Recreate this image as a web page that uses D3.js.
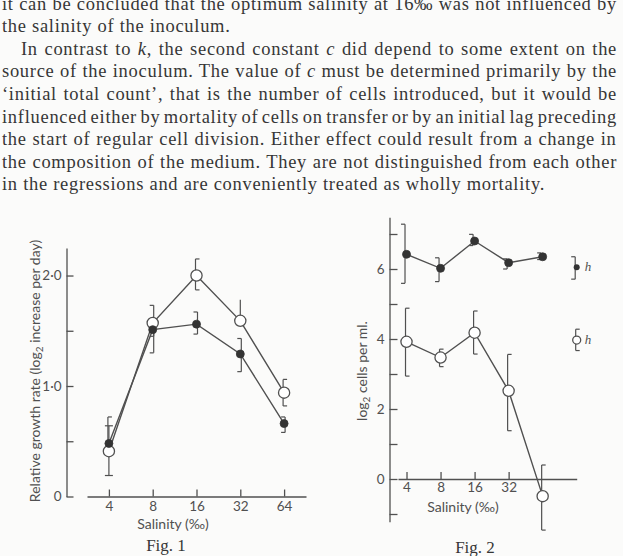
<!DOCTYPE html>
<html><head><meta charset="utf-8">
<script src="https://cdn.jsdelivr.net/npm/d3@7"></script>
<style>
html,body{margin:0;padding:0;background:#fbfbfa;}
svg{display:block;}
</style></head>
<body>
<svg id="c" width="623" height="556"></svg>
<script>
// ---------- data ----------
const salinity = [4, 8, 16, 32, 64];
const salinityLabels1 = ["4", "8", "16", "32", "64"];
const salinityLabels2 = ["4", "8", "16", "32"];

// Fig. 1 relative growth rate
const fig1Open   = [0.41, 1.57, 2.00, 1.59, 0.94];
const fig1OpenLo = [0.19, 1.45, 1.87, 1.59, 0.82];
const fig1OpenHi = [0.64, 1.73, 2.15, 1.78, 1.06];
const fig1OpenCap = ["B", "L", "R", "N", "R"];
const fig1Filled   = [0.48, 1.51, 1.56, 1.29, 0.66];
const fig1FilledLo = [0.48, 1.30, 1.47, 1.13, 0.58];
const fig1FilledHi = [0.72, 1.60, 1.67, 1.43, 0.72];
const fig1FilledCap = ["R", "L", "L", "L", "L"];
const fig1YMajor = [0, 1, 2];
const fig1YLabels = ["0", "1·0", "2·0"];
const fig1YMinor = [0.5, 1.5];

// Fig. 2 log2 cells per ml
const fig2Filled   = [6.42, 6.02, 6.80, 6.18, 6.35];
const fig2FilledLo = [5.59, 5.64, 6.67, 6.00, 6.27];
const fig2FilledHi = [7.28, 6.32, 6.99, 6.29, 6.46];
const fig2Open   = [3.92, 3.47, 4.18, 2.52, -0.49];
const fig2OpenLo = [2.94, 3.21, 3.57, 1.38, -1.46];
const fig2OpenHi = [4.88, 3.71, 4.80, 3.56, 0.40];
const fig2YMajor = [0, 2, 4, 6];
const fig2YMinor = [-1, 1, 3, 5, 7];
// "h" marker (error scale) for each series
const hSalinity = 128;
const hFilled = {v: 6.05, lo: 5.71, hi: 6.35};
const hOpen   = {v: 3.97, lo: 3.67, hi: 4.28};

const paragraph = [
  {t: "it can be concluded that the optimum salinity at 16‰ was not influenced by", indent: 0, just: true},
  {t: "the salinity of the inoculum.", indent: 0, just: false},
  {t: "In contrast to *k*, the second constant *c* did depend to some extent on the", indent: 19, just: true},
  {t: "source of the inoculum. The value of *c* must be determined primarily by the", indent: 0, just: true},
  {t: "‘initial total count’, that is the number of cells introduced, but it would be", indent: 0, just: true},
  {t: "influenced either by mortality of cells on transfer or by an initial lag preceding", indent: 0, just: true},
  {t: "the start of regular cell division.  Either effect could result from a change in", indent: 0, just: true},
  {t: "the composition of the medium. They are not distinguished from each other", indent: 0, just: true},
  {t: "in the regressions and are conveniently treated as wholly mortality.", indent: 0, just: false}
];

// ---------- drawing ----------
const svg = d3.select("#c");
const ink = "#363636";
const figInk = "#505050";
const figFont = "Lato, 'Open Sans', sans-serif";
const serif = "'Liberation Serif', 'Times New Roman', serif";

// paragraph text
const textLeft = 2, textRight = 617, lastLineEnd = 545;
const textNodes = paragraph.map((ln, i) => {
  const t = svg.append("text")
    .attr("x", textLeft + ln.indent)
    .attr("y", 9.5 + 22.6 * i)
    .attr("font-family", serif)
    .attr("font-size", 18.5)
    .attr("fill", ink);
  ln.t.split("*").forEach((seg, k) => {
    if (!seg) return;
    t.append("tspan").text(seg).attr("font-style", k % 2 ? "italic" : "normal");
  });
  return t;
});
// letter spacing so the unjustified last line ends where the printed one does
{
  const last = textNodes[textNodes.length - 1];
  const w = last.node().getComputedTextLength();
  const n = paragraph[paragraph.length - 1].t.length;
  const ls = (lastLineEnd - textLeft - w) / n;
  textNodes.forEach(t => t.style("letter-spacing", ls + "px"));
}
paragraph.forEach((ln, i) => {
  if (!ln.just) return;
  const t = textNodes[i];
  const w = t.node().getComputedTextLength();
  const spaces = (ln.t.match(/ /g) || []).length;
  const target = textRight - textLeft - ln.indent;
  t.style("word-spacing", ((target - w) / spaces) + "px");
});

function styleAxis(g, size) {
  g.attr("font-family", figFont).attr("font-size", size);
  g.selectAll("path,line").attr("stroke", figInk).attr("stroke-width", 1.3);
  g.selectAll("text").attr("fill", figInk);
}

function errorBar(g, x, ylo, yhi, side, dx) {
  const cap = 4;
  const xv = x + (side === "L" ? dx : side === "R" ? -dx : 0);
  g.append("line").attr("x1", xv).attr("x2", xv).attr("y1", ylo).attr("y2", yhi)
    .attr("stroke", figInk).attr("stroke-width", 1.2);
  if (side === "N") return;
  [ylo, yhi].forEach(yy => {
    let x1 = xv, x2 = xv;
    if (side === "L") x1 = xv - cap;
    else if (side === "R") x2 = xv + cap;
    else { x1 = xv - cap; x2 = xv + cap; }
    g.append("line").attr("x1", x1).attr("x2", x2).attr("y1", yy).attr("y2", yy)
      .attr("stroke", figInk).attr("stroke-width", 1.2);
  });
}

// ===== Fig. 1 =====
{
  const x = d3.scaleLog().base(2).domain([Math.pow(2, 1.5), Math.pow(2, 6.5)]).range([87, 306]);
  const y = d3.scaleLinear().domain([0, 2.25]).range([496.5, 247.9]);
  const g = svg.append("g");

  const yAxis = d3.axisLeft(y).tickValues(fig1YMajor.concat(fig1YMinor))
    .tickFormat(d => { const i = fig1YMajor.indexOf(d); return i >= 0 ? fig1YLabels[i] : ""; })
    .tickSize(-7).tickSizeOuter(0).tickPadding(5);
  g.append("g").attr("transform", "translate(66.5,0)").call(yAxis).call(a => styleAxis(a, 13.5));

  const xAxis = d3.axisBottom(x).tickValues(salinity)
    .tickFormat((d, i) => salinityLabels1[i]).tickSize(-7).tickSizeOuter(0).tickPadding(5);
  g.append("g").attr("transform", `translate(0,${y(0)})`).call(xAxis).call(a => styleAxis(a, 13.5));

  g.append("text").attr("x", 173).attr("y", 529).attr("text-anchor", "middle")
    .attr("font-family", figFont).attr("font-size", 14).attr("fill", figInk).text("Salinity (‰)");
  const yl = g.append("text").attr("transform", "translate(40,371) rotate(-90)")
    .attr("text-anchor", "middle").attr("font-family", figFont).attr("font-size", 14).attr("fill", figInk);
  yl.append("tspan").text("Relative growth rate (log");
  yl.append("tspan").attr("font-size", 10).attr("dy", 3).text("2");
  yl.append("tspan").attr("dy", -3).text(" increase per day)");

  g.append("text").attr("x", 166).attr("y", 551).attr("text-anchor", "middle")
    .attr("font-family", serif).attr("font-size", 17).attr("fill", ink).text("Fig. 1");

  const line = d3.line().x((d, i) => x(salinity[i])).y(d => y(d));
  g.append("path").datum(fig1Open).attr("d", line).attr("fill", "none").attr("stroke", figInk).attr("stroke-width", 1.4);
  g.append("path").datum(fig1Filled).attr("d", line).attr("fill", "none").attr("stroke", figInk).attr("stroke-width", 1.4);

  salinity.forEach((s, i) => {
    errorBar(g, x(s), y(fig1OpenLo[i]), y(fig1OpenHi[i]), fig1OpenCap[i], 1);
    errorBar(g, x(s), y(fig1FilledLo[i]), y(fig1FilledHi[i]), fig1FilledCap[i], 1);
  });
  g.selectAll("circle.o").data(fig1Open).join("circle").attr("class", "o")
    .attr("cx", (d, i) => x(salinity[i])).attr("cy", d => y(d)).attr("r", 5.6)
    .attr("fill", "#ffffff").attr("stroke", figInk).attr("stroke-width", 1.3);
  g.selectAll("circle.f").data(fig1Filled).join("circle").attr("class", "f")
    .attr("cx", (d, i) => x(salinity[i])).attr("cy", d => y(d)).attr("r", 4)
    .attr("fill", "#333").attr("stroke", "#333").attr("stroke-width", 0.8);
}

// ===== Fig. 2 =====
{
  const x = d3.scaleLog().base(2).domain([Math.pow(2, 1.75), 128]).range([398, 576.7]);
  const y = d3.scaleLinear().domain([-1.22, 7.48]).range([479 + 1.22 * 35, 479 - 7.48 * 35]);
  const g = svg.append("g");

  const yAxis = d3.axisLeft(y).tickValues(fig2YMajor.concat(fig2YMinor))
    .tickFormat(d => fig2YMajor.includes(d) ? String(d) : "")
    .tickSize(-8).tickSizeOuter(0).tickPadding(5);
  g.append("g").attr("transform", "translate(389.5,0)").call(yAxis).call(a => styleAxis(a, 13.5));

  const xAxis = d3.axisBottom(x).tickValues(salinity.slice(0, 4))
    .tickFormat((d, i) => salinityLabels2[i]).tickSize(-7).tickSizeOuter(0).tickPadding(3);
  g.append("g").attr("transform", `translate(0,${y(0)})`).call(xAxis).call(a => styleAxis(a, 13.5));

  g.append("text").attr("x", 463).attr("y", 512).attr("text-anchor", "middle")
    .attr("font-family", figFont).attr("font-size", 14).attr("fill", figInk).text("Salinity (‰)");
  const yl = g.append("text").attr("transform", "translate(367,371) rotate(-90)")
    .attr("text-anchor", "middle").attr("font-family", figFont).attr("font-size", 14).attr("fill", figInk);
  yl.append("tspan").text("log");
  yl.append("tspan").attr("font-size", 10).attr("dy", 3).text("2");
  yl.append("tspan").attr("dy", -3).text(" cells per ml.");

  g.append("text").attr("x", 475).attr("y", 553).attr("text-anchor", "middle")
    .attr("font-family", serif).attr("font-size", 17).attr("fill", ink).text("Fig. 2");

  const line = d3.line().x((d, i) => x(salinity[i])).y(d => y(d));
  g.append("path").datum(fig2Open).attr("d", line).attr("fill", "none").attr("stroke", figInk).attr("stroke-width", 1.4);
  g.append("path").datum(fig2Filled).attr("d", line).attr("fill", "none").attr("stroke", figInk).attr("stroke-width", 1.4);

  salinity.forEach((s, i) => {
    errorBar(g, x(s), y(fig2OpenLo[i]), y(fig2OpenHi[i]), "R", 1);
    errorBar(g, x(s), y(fig2FilledLo[i]), y(fig2FilledHi[i]), "L", -1.5);
  });
  errorBar(g, x(hSalinity), y(hFilled.lo), y(hFilled.hi), "L", -1.5);
  errorBar(g, x(hSalinity), y(hOpen.lo), y(hOpen.hi), "R", 1);

  g.selectAll("circle.o").data(fig2Open).join("circle").attr("class", "o")
    .attr("cx", (d, i) => x(salinity[i])).attr("cy", d => y(d)).attr("r", 5.6)
    .attr("fill", "#ffffff").attr("stroke", figInk).attr("stroke-width", 1.3);
  g.selectAll("circle.f").data(fig2Filled).join("circle").attr("class", "f")
    .attr("cx", (d, i) => x(salinity[i])).attr("cy", d => y(d)).attr("r", 4)
    .attr("fill", "#333").attr("stroke", "#333").attr("stroke-width", 0.8);

  g.append("circle").attr("cx", x(hSalinity)).attr("cy", y(hFilled.v)).attr("r", 3)
    .attr("fill", "#333");
  g.append("circle").attr("cx", x(hSalinity)).attr("cy", y(hOpen.v)).attr("r", 4)
    .attr("fill", "#fff").attr("stroke", figInk).attr("stroke-width", 1.3);
  [hFilled, hOpen].forEach(h => {
    g.append("text").attr("x", x(hSalinity) + 8).attr("y", y(h.v) + 4)
      .attr("font-family", serif).attr("font-style", "italic").attr("font-size", 13)
      .attr("fill", figInk).text("h");
  });
}
</script>
</body></html>
